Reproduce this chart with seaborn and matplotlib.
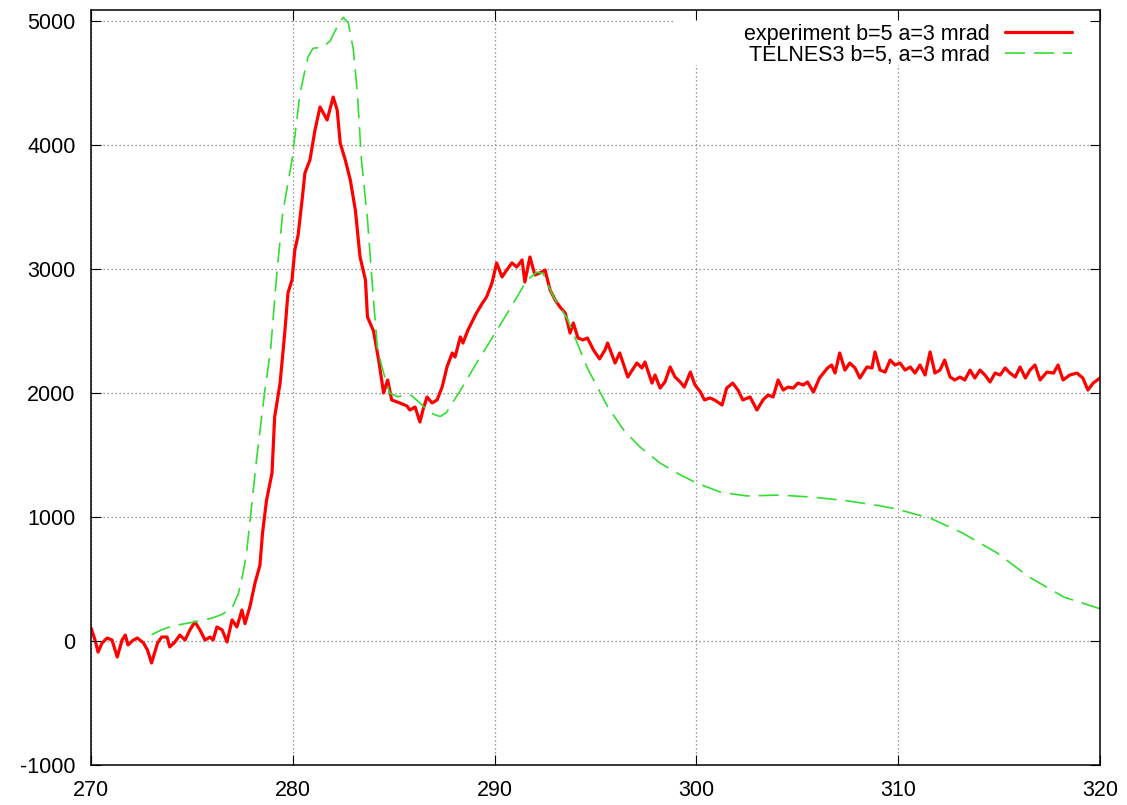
import matplotlib
matplotlib.use("Agg")
import matplotlib.pyplot as plt
import matplotlib.patches as mpatches
import numpy as np
import pandas as pd
import seaborn as sns

# Energy loss (eV) and counts for the measured carbon K-edge
exp_energy = [
    270.0, 270.2, 270.35, 270.55, 270.8, 271.04, 271.3, 271.54, 271.7, 271.83,
    272.1, 272.3, 272.6, 272.8, 273.0, 273.3, 273.5, 273.77, 273.9, 274.16,
    274.4, 274.66, 274.9, 275.15, 275.4, 275.65, 275.9, 276.05, 276.24, 276.5,
    276.74, 276.99, 277.23, 277.48, 277.63, 277.88, 278.13, 278.37, 278.5, 278.7,
    278.97, 279.1, 279.37, 279.6, 279.76, 279.96, 280.1, 280.26, 280.46, 280.6,
    280.85, 281.1, 281.35, 281.7, 282.0, 282.2, 282.35, 282.6, 282.85, 283.1,
    283.33, 283.6, 283.7, 284.0, 284.25, 284.5, 284.7, 284.9, 285.3, 285.66,
    285.8, 286.06, 286.3, 286.45, 286.65, 286.9, 287.15, 287.4, 287.64, 287.9,
    288.04, 288.3, 288.43, 288.68, 288.93, 289.1, 289.4, 289.6, 289.87, 290.1,
    290.37, 290.6, 290.86, 291.1, 291.36, 291.5, 291.75, 292.0, 292.25, 292.5,
    292.75, 293.0, 293.24, 293.5, 293.74, 293.9, 294.13, 294.38, 294.6, 294.9,
    295.2, 295.47, 295.6, 295.97, 296.2, 296.6, 297.05, 297.3, 297.45, 297.8,
    297.95, 298.2, 298.44, 298.7, 298.94, 299.2, 299.4, 299.7, 299.93, 300.2,
    300.4, 300.67, 300.9, 301.27, 301.5, 301.8, 302.06, 302.3, 302.66, 303.0,
    303.3, 303.55, 303.8, 304.05, 304.3, 304.54, 304.8, 305.03, 305.3, 305.5,
    305.8, 306.1, 306.5, 306.7, 306.87, 307.1, 307.36, 307.6, 307.86, 308.1,
    308.45, 308.7, 308.85, 309.1, 309.35, 309.6, 309.84, 310.09, 310.34, 310.6,
    310.83, 311.08, 311.33, 311.58, 311.82, 312.07, 312.3, 312.57, 312.8, 313.06,
    313.3, 313.56, 313.8, 314.05, 314.3, 314.55, 314.8, 315.05, 315.3, 315.54,
    315.8, 316.04, 316.3, 316.53, 316.78, 317.03, 317.37, 317.7, 317.92, 318.17,
    318.5, 318.86, 319.15, 319.4, 319.66, 320.0,
]
exp_counts = [
    105, 8, -89, -16, 24, 8, -129, 8, 48, -32,
    8, 24, -16, -73, -177, -16, 32, 32, -48, -8,
    48, 8, 89, 153, 89, 8, 32, 8, 113, 89,
    -8, 170, 113, 250, 140, 280, 470, 610, 871, 1137,
    1355, 1806, 2080, 2484, 2807, 2911, 3153, 3270, 3557, 3774,
    3880, 4121, 4307, 4202, 4387, 4282, 4016, 3880, 3718, 3476,
    3100, 2911, 2613, 2500, 2270, 2000, 2105, 1944, 1920, 1895,
    1863, 1887, 1766, 1863, 1968, 1920, 1944, 2048, 2210, 2323,
    2290, 2452, 2403, 2508, 2589, 2645, 2726, 2774, 2887, 3049,
    2936, 2992, 3049, 3016, 3073, 2895, 3097, 2952, 2968, 2992,
    2831, 2750, 2694, 2645, 2484, 2565, 2444, 2428, 2444, 2347,
    2275, 2347, 2403, 2242, 2323, 2129, 2242, 2202, 2250, 2080,
    2145, 2040, 2089, 2210, 2129, 2089, 2048, 2169, 2065, 2008,
    1944, 1960, 1944, 1903, 2040, 2080, 2024, 1944, 1968, 1863,
    1944, 1984, 1968, 2105, 2024, 2048, 2040, 2080, 2065, 2089,
    2008, 2121, 2202, 2226, 2161, 2323, 2185, 2242, 2202, 2121,
    2210, 2202, 2331, 2185, 2169, 2266, 2226, 2242, 2185, 2210,
    2161, 2226, 2145, 2331, 2161, 2185, 2266, 2129, 2105, 2129,
    2105, 2185, 2121, 2185, 2145, 2089, 2161, 2145, 2202, 2161,
    2129, 2210, 2121, 2185, 2226, 2105, 2169, 2161, 2226, 2105,
    2145, 2161, 2121, 2024, 2080, 2121,
]

# TELNES3 simulation of the same edge
sim_energy = [
    273.0, 273.5, 274.0, 274.5, 275.0, 275.5, 276.0, 276.5, 277.0, 277.3,
    277.5, 277.7, 277.9, 278.2, 278.6, 278.9, 279.2, 279.5, 279.96, 280.36,
    280.75, 281.0, 281.5, 281.85, 282.25, 282.5, 282.75, 283.0, 283.2, 283.4,
    283.7, 284.0, 284.2, 284.5, 284.8, 285.2, 285.8, 286.3, 286.8, 287.3,
    287.6, 288.3, 289.1, 289.9, 290.8, 291.6, 292.1, 292.4, 292.9, 293.6,
    294.6, 295.6, 296.4, 297.2, 298.2, 299.2, 300.0, 301.2, 302.5, 304.1,
    305.8, 307.5, 309.1, 309.9, 311.6, 313.2, 314.9, 316.5, 318.2, 320.0,
]
sim_counts = [
    50, 90, 120, 135, 150, 165, 185, 215, 270, 380,
    520, 700, 1000, 1460, 2000, 2350, 2950, 3450, 3880, 4420,
    4710, 4780, 4790, 4840, 4970, 5030, 4985, 4770, 4420, 3880,
    3400, 2750, 2350, 2160, 2000, 1970, 1990, 1920, 1840, 1810,
    1840, 2020, 2240, 2450, 2690, 2910, 2975, 2965, 2780, 2600,
    2200, 1890, 1700, 1565, 1435, 1340, 1275, 1200, 1170, 1177,
    1160, 1130, 1090, 1065, 990, 870, 710, 515, 355, 260,
]

exp_label = "experiment b=5 a=3 mrad"
sim_label = "TELNES3 b=5, a=3 mrad"
x_ticks = [270, 280, 290, 300, 310, 320]
y_ticks = [-1000, 0, 1000, 2000, 3000, 4000, 5000]

sns.set_theme(style="ticks")
plt.rcParams["font.family"] = ["Liberation Sans", "DejaVu Sans"]
plt.rcParams["axes.unicode_minus"] = False
plt.rcParams["text.color"] = "black"

W, H = 1127, 805
fig = plt.figure(figsize=(W / 100, H / 100), dpi=100)
rect = [91 / W, 1 - 765 / H, (1100 - 91) / W, (765 - 10) / H]

# background axes carries only the dotted grid
ax_bg = fig.add_axes(rect, zorder=0)
ax = fig.add_axes(rect, zorder=1, sharex=ax_bg, sharey=ax_bg)
ax.patch.set_alpha(0)

ax_bg.set_xlim(270, 320)
ax_bg.set_ylim(-1000, 5089)
ax_bg.set_xticks(x_ticks)
ax_bg.set_yticks(y_ticks)
ax_bg.grid(True, color="#7a7a7a", linestyle=(0, (1, 2.2)), linewidth=0.9)
ax_bg.tick_params(length=0, labelleft=False, labelbottom=False)
for s in ax_bg.spines.values():
    s.set_visible(False)

exp_df = pd.DataFrame({"energy": exp_energy, "counts": exp_counts})
sim_df = pd.DataFrame({"energy": sim_energy, "counts": sim_counts})

sns.lineplot(data=exp_df, x="energy", y="counts", ax=ax, color="#ff0000",
             linewidth=2.3, label=exp_label, sort=False, zorder=2)
sns.lineplot(data=sim_df, x="energy", y="counts", ax=ax, color="#33dd33",
             linewidth=1.2, dashes=False, label=sim_label, sort=False, zorder=2)
ax.lines[1].set_dashes((12, 5.4))

ax.set_axisbelow(False)
ax.set_xlabel("")
ax.set_ylabel("")
ax.tick_params(direction="in", length=7, width=0.8, color="black",
               top=True, right=True, labelsize=15.5, pad=11, labelcolor="black")
for s in ax.spines.values():
    s.set_visible(True)
    s.set_color("black")
    s.set_linewidth(1.1)

# key area blanks the grid behind it
ax.add_patch(mpatches.Rectangle((0.579, 0.927), 0.421, 0.073, transform=ax.transAxes,
                                facecolor="white", edgecolor="none", zorder=2.1))
leg = ax.legend(loc="upper right", bbox_to_anchor=(0.972, 0.982), frameon=False,
                markerfirst=False, fontsize=15.5, handlelength=3.1,
                handletextpad=0.7, labelspacing=0.0, borderpad=0, borderaxespad=0,
                labelcolor="black")
leg.set_zorder(2.2)

fig.savefig("out.png", dpi=100, facecolor="white")
